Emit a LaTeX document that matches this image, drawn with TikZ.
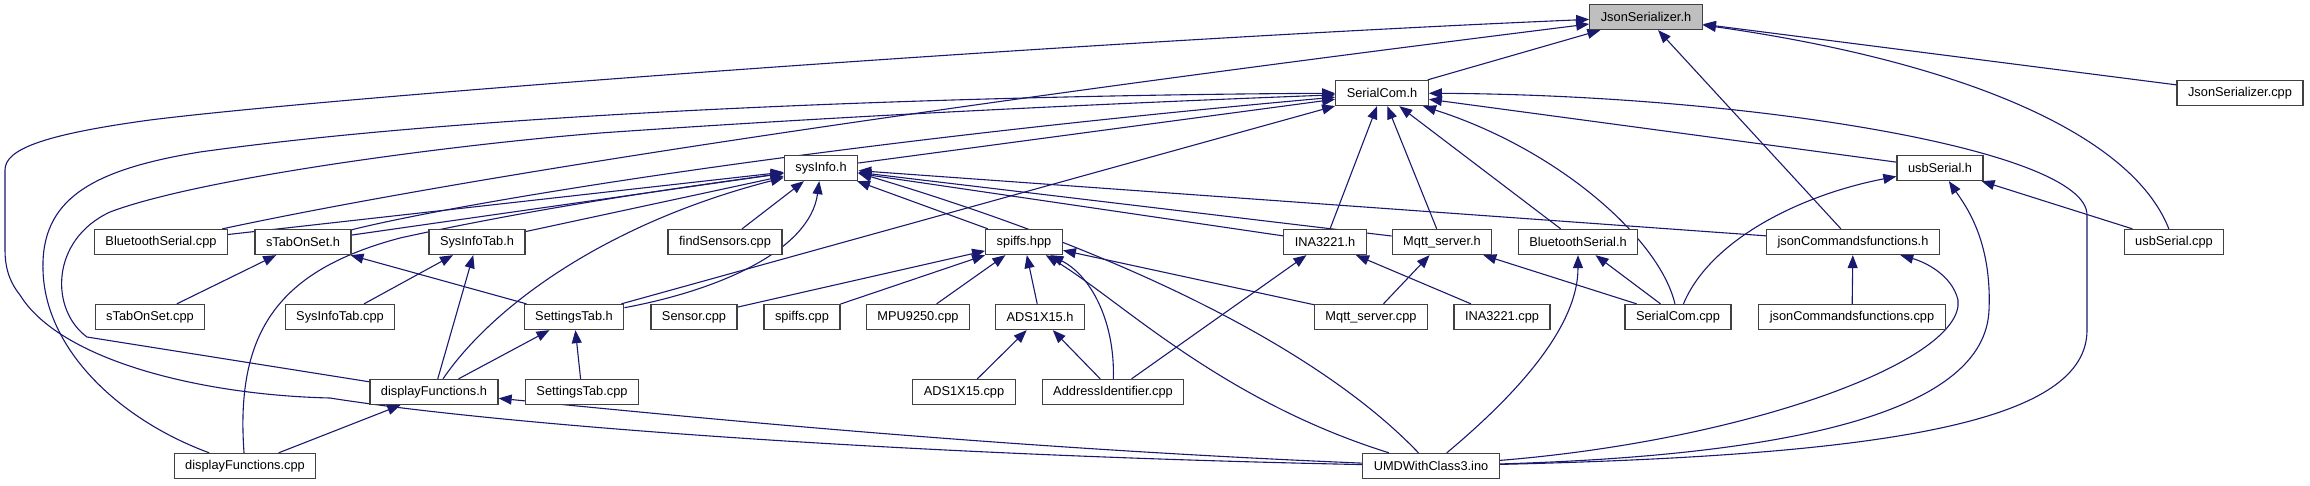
\documentclass[tikz,border=0pt]{standalone}
\usepackage{fontspec}
\setmainfont{Liberation Sans}
\usetikzlibrary{arrows.meta}
\definecolor{edgeblue}{RGB}{25,25,112}
\pgfdeclarelayer{edges}
\pgfsetlayers{edges,main}

\begin{document}
\begin{tikzpicture}[x=1pt,y=-1pt,
        file/.style={draw=black!75,line width=1.3pt,fill=white,minimum height=25pt,
            inner xsep=11pt,inner ysep=0pt,font=\fontsize{12.8}{15}\selectfont},
        dep/.style={draw=edgeblue,line width=1.1pt,-{Triangle[length=13pt,width=10pt]}}]
        \useasboundingbox (0,0) rectangle (2310,485);
        % the header in the middle of it all
        \node[file,fill=black!25] (jsh) at (1646,17) {JsonSerializer.h};
        \foreach \n/\x/\y/\t in {
            sch/1382/93/SerialCom.h, jscpp/2240/93/JsonSerializer.cpp,
            sih/821/168/sysInfo.h, ush/1940/168/usbSerial.h,
            btcpp/161/242/BluetoothSerial.cpp, stsh/303/242/sTabOnSet.h,
            sith/477/242/SysInfoTab.h, fscpp/725/242/findSensors.cpp,
            spi/1024/242/spiffs.hpp, inah/1325/242/INA3221.h,
            mqh/1442/242/Mqtt\_server.h, bth/1578/242/BluetoothSerial.h,
            jch/1853/242/jsonCommandsfunctions.h, uscpp/2174/242/usbSerial.cpp,
            stscpp/150/317/sTabOnSet.cpp, sitcpp/340/317/SysInfoTab.cpp,
            seth/574/317/SettingsTab.h, sencpp/694/317/Sensor.cpp,
            spicpp/802/317/spiffs.cpp, mpucpp/918/317/MPU9250.cpp,
            adsh/1040/317/ADS1X15.h, mqcpp/1371/317/Mqtt\_server.cpp,
            inacpp/1502/317/INA3221.cpp, sccpp/1678/317/SerialCom.cpp,
            jccpp/1852/317/jsonCommandsfunctions.cpp,
            dfh/434/392/displayFunctions.h, setcpp/582/392/SettingsTab.cpp,
            adscpp/964/392/ADS1X15.cpp, aicpp/1113/392/AddressIdentifier.cpp,
            dfcpp/245/466/displayFunctions.cpp, umd/1431/466/UMDWithClass3.ino} {
            \node[file] (\n) at (\x,\y) {\t};
        }
        \begin{pgfonlayer}{edges}
        % straight includes
        \foreach \a/\b in {sch/jsh, jscpp/jsh, jch/jsh,
            btcpp/sih, stsh/sih, sith/sih, fscpp/sih, spi/sih, inah/sih, mqh/sih, jch/sih,
            sih/sch, seth/sch, inah/sch, mqh/sch, bth/sch, ush/sch,
            sccpp/mqh, sccpp/bth, uscpp/ush, jccpp/jch,
            sencpp/spi, spicpp/spi, mpucpp/spi, adsh/spi, mqcpp/spi,
            adscpp/adsh, aicpp/adsh, aicpp/inah, inacpp/inah, mqcpp/mqh,
            seth/stsh, stscpp/stsh, sitcpp/sith, dfh/sith, dfh/seth, setcpp/seth, dfcpp/dfh} {
            \draw[dep] (\a) -- (\b);
        }
        % bent ones
        \draw[dep] (btcpp) .. controls (450,180) and (900,110) .. (jsh);
        \draw[dep] (uscpp) .. controls (2130,130) and (1950,60) .. (jsh);
        \draw[dep] (stsh) .. controls (450,205) and (800,145) .. (sch);
        \draw[dep] (sccpp) .. controls (1660,240) and (1560,150) .. (sch);
        \draw[dep] (sccpp) .. controls (1710,240) and (1800,195) .. (ush);
        \draw[dep] (aicpp) .. controls (1115,320) and (1090,275) .. (spi);
        \draw[dep] (dfcpp) .. controls (235,330) and (280,270) .. (400,238)
            .. controls (550,205) and (700,185) .. (sih);
        \draw[dep] (dfh) .. controls (490,310) and (600,225) .. (sih);
        \draw[dep] (seth) .. controls (720,290) and (810,250) .. (sih);
        \draw[dep] (dfcpp) .. controls (120,420) and (45,350) .. (43,270)
            .. controls (41,200) and (90,170) .. (200,152)
            .. controls (500,110) and (1000,95) .. (sch);
        \draw[dep] (dfh) -- (87,337) .. controls (50,310) and (50,240) .. (110,212)
            .. controls (200,178) and (450,145) .. (600,133)
            .. controls (900,112) and (1200,100) .. (sch);
        % everything the sketch includes
        \draw[dep] (umd) .. controls (900,455) and (500,425) .. (330,398)
            .. controls (200,395) and (60,360) .. (20,295)
            .. controls (8,280) and (5,265) .. (5,250) -- (5,170)
            .. controls (5,150) and (40,135) .. (150,120)
            .. controls (350,95) and (1100,40) .. (jsh);
        \draw[dep] (umd) .. controls (1900,455) and (2087,420) .. (2087,330) -- (2087,215)
            .. controls (2087,150) and (1750,95) .. (sch);
        \draw[dep] (umd) .. controls (1750,440) and (1965,360) .. (1958,300)
            .. controls (1952,275) and (1925,262) .. (jch);
        \draw[dep] (umd) .. controls (1800,455) and (1985,410) .. (1989,310)
            .. controls (1992,240) and (1965,205) .. (ush);
        \draw[dep] (umd) .. controls (1510,400) and (1578,330) .. (bth);
        \draw[dep] (umd) .. controls (1220,400) and (1120,300) .. (spi);
        \draw[dep] (umd) .. controls (1330,360) and (1150,260) .. ([yshift=-5pt]sih.east);
        \draw[dep] (umd) .. controls (1000,448) and (700,418) .. (dfh);
        \end{pgfonlayer}
\end{tikzpicture}
\end{document}
